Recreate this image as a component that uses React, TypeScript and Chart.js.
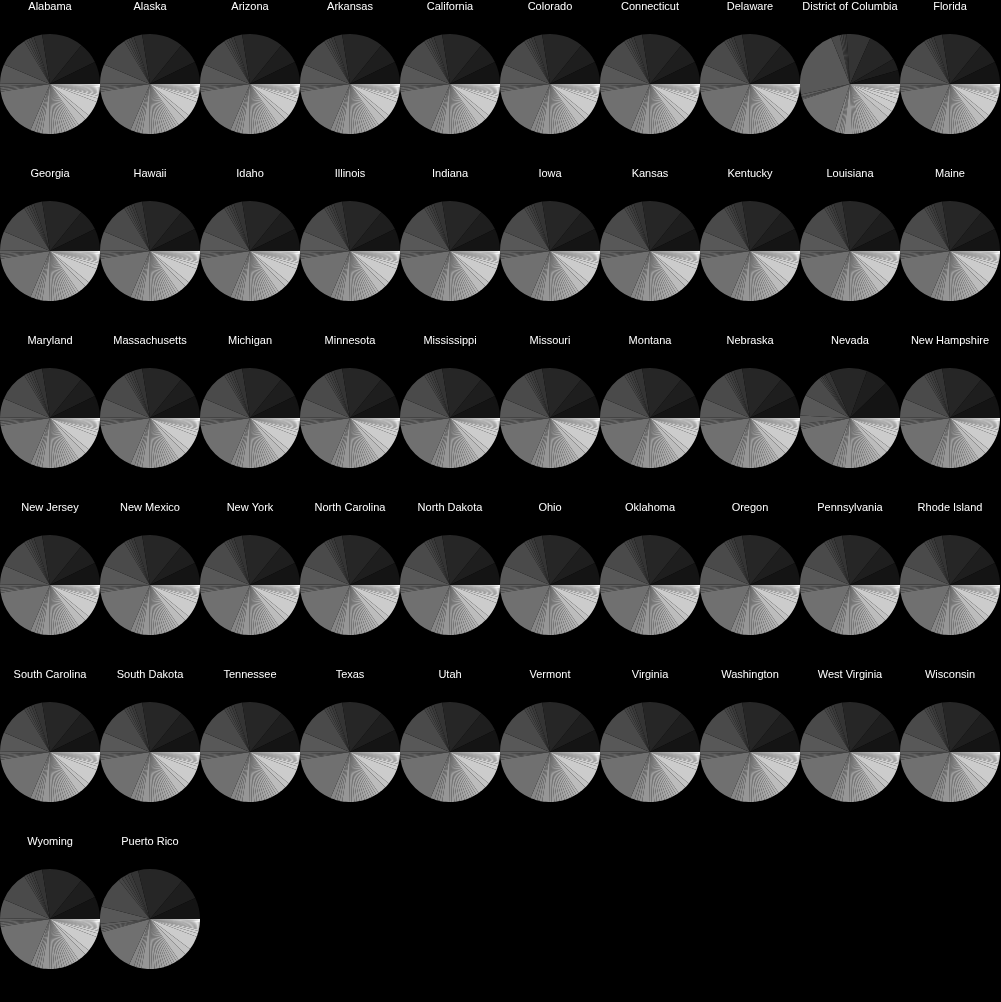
import React, { useEffect, useRef } from "react";
import { Chart, registerables } from "chart.js";

Chart.register(...registerables);

const states: string[] = [
  "Alabama", "Alaska", "Arizona", "Arkansas", "California", "Colorado", "Connecticut", "Delaware", "District of Columbia", "Florida",
  "Georgia", "Hawaii", "Idaho", "Illinois", "Indiana", "Iowa", "Kansas", "Kentucky", "Louisiana", "Maine",
  "Maryland", "Massachusetts", "Michigan", "Minnesota", "Mississippi", "Missouri", "Montana", "Nebraska", "Nevada", "New Hampshire",
  "New Jersey", "New Mexico", "New York", "North Carolina", "North Dakota", "Ohio", "Oklahoma", "Oregon", "Pennsylvania", "Rhode Island",
  "South Carolina", "South Dakota", "Tennessee", "Texas", "Utah", "Vermont", "Virginia", "Washington", "West Virginia", "Wisconsin",
  "Wyoming", "Puerto Rico",
];

const categories: string[] = Array.from({ length: 48 }, (_, i) => `Group ${i + 1}`);

// gray level per category (style)
const grayLevels: number[] = [
  250, 246, 242, 238, 234, 230, 226, 222, 218, 214,
  212, 210, 208, 204, 196, 188,
  182, 178, 175, 172, 169, 166, 163,
  160, 158, 156, 154, 152, 150,
  146, 142, 138, 134, 112,
  106, 102, 98, 94, 88, 74,
  70, 66, 62, 58, 52, 38, 30, 20,
];

const typicalValues: number[] = [
  1.2, 1.2, 1.2, 1.2, 1.2, 1.2, 1.2, 1.2, 1.2, 1.2,
  2, 3, 4, 18, 6, 10,
  3, 3, 3, 3, 3, 3, 3,
  3, 3, 3, 3, 3, 8,
  3, 3, 3, 5, 58,
  2, 2, 2, 4, 22, 36,
  3, 3, 3, 3, 10, 48, 25, 26,
];

const dcValues: number[] = [
  1, 1, 1, 1, 1, 1, 1, 1, 1, 1,
  3, 4, 6, 10, 8, 12,
  3.5, 3.5, 3.5, 3.5, 3.5, 3.5, 3.5,
  2.5, 2.5, 2.5, 2.5, 2.5, 7,
  2, 2, 2, 5, 54,
  1, 1, 1, 3, 80, 10,
  2, 2, 2, 2, 28, 36, 14, 16,
];

const nevadaValues: number[] = [
  1.2, 1.2, 1.2, 1.2, 1.2, 1.2, 1.2, 1.2, 1.2, 1.2,
  2, 3, 4, 16, 6, 9,
  3, 3, 3, 3, 3, 3, 3,
  3, 3, 3, 3, 3, 8,
  3, 3, 3, 6, 56,
  2, 2, 2, 10, 24, 25,
  2, 2, 2, 2, 6, 44, 26, 44,
];

const puertoRicoValues: number[] = [
  1.2, 1.2, 1.2, 1.2, 1.2, 1.2, 1.2, 1.2, 1.2, 1.2,
  2, 3, 4, 16, 8, 10,
  3, 3, 3, 3, 3, 3, 3,
  3, 3, 3, 3, 3, 9,
  3, 3, 3, 6, 50,
  2, 2, 2, 4, 20, 37,
  4, 4, 4, 4, 9, 54, 25, 25,
];

function valuesFor(state: string): number[] {
  if (state === "District of Columbia") return dcValues;
  if (state === "Nevada") return nevadaValues;
  if (state === "Puerto Rico") return puertoRicoValues;
  return typicalValues;
}

const CELL_W = 100;
const CELL_H = 167;
const COLS = 10;

function PieCell({ state, index }: { state: string; index: number }) {
  const ref = useRef<HTMLCanvasElement | null>(null);
  useEffect(() => {
    if (!ref.current) return;
    const colors = grayLevels.map((g) => `rgb(${g},${g},${g})`);
    const chart = new Chart(ref.current, {
      type: "pie",
      data: {
        labels: categories,
        datasets: [
          {
            data: valuesFor(state),
            backgroundColor: colors,
            borderWidth: 0,
          },
        ],
      },
      options: {
        responsive: false,
        animation: false,
        events: [],
        rotation: 90,
        layout: { padding: { top: 0, bottom: 33, left: 0, right: 0 } },
        plugins: {
          legend: { display: false },
          tooltip: { enabled: false },
          title: {
            display: true,
            text: state,
            color: "#ffffff",
            font: { family: "'Liberation Sans', Arial, sans-serif", size: 11, weight: "normal", lineHeight: 1.2 },
            padding: { top: 0, bottom: 20.8 },
          },
        },
      },
    });
    return () => chart.destroy();
  }, [state]);
  const col = index % COLS;
  const row = Math.floor(index / COLS);
  return (
    <canvas
      ref={ref}
      width={CELL_W}
      height={CELL_H}
      style={{ position: "absolute", left: col * CELL_W, top: row * CELL_H, width: CELL_W, height: CELL_H }}
    />
  );
}

export default function App() {
  useEffect(() => {
    document.body.style.margin = "0";
    document.body.style.background = "#000";
  }, []);
  return (
    <div style={{ position: "fixed", left: 0, top: 0, width: 1001, height: 1002, background: "#000", overflow: "hidden" }}>
      {states.map((s, i) => (
        <PieCell key={s} state={s} index={i} />
      ))}
    </div>
  );
}
